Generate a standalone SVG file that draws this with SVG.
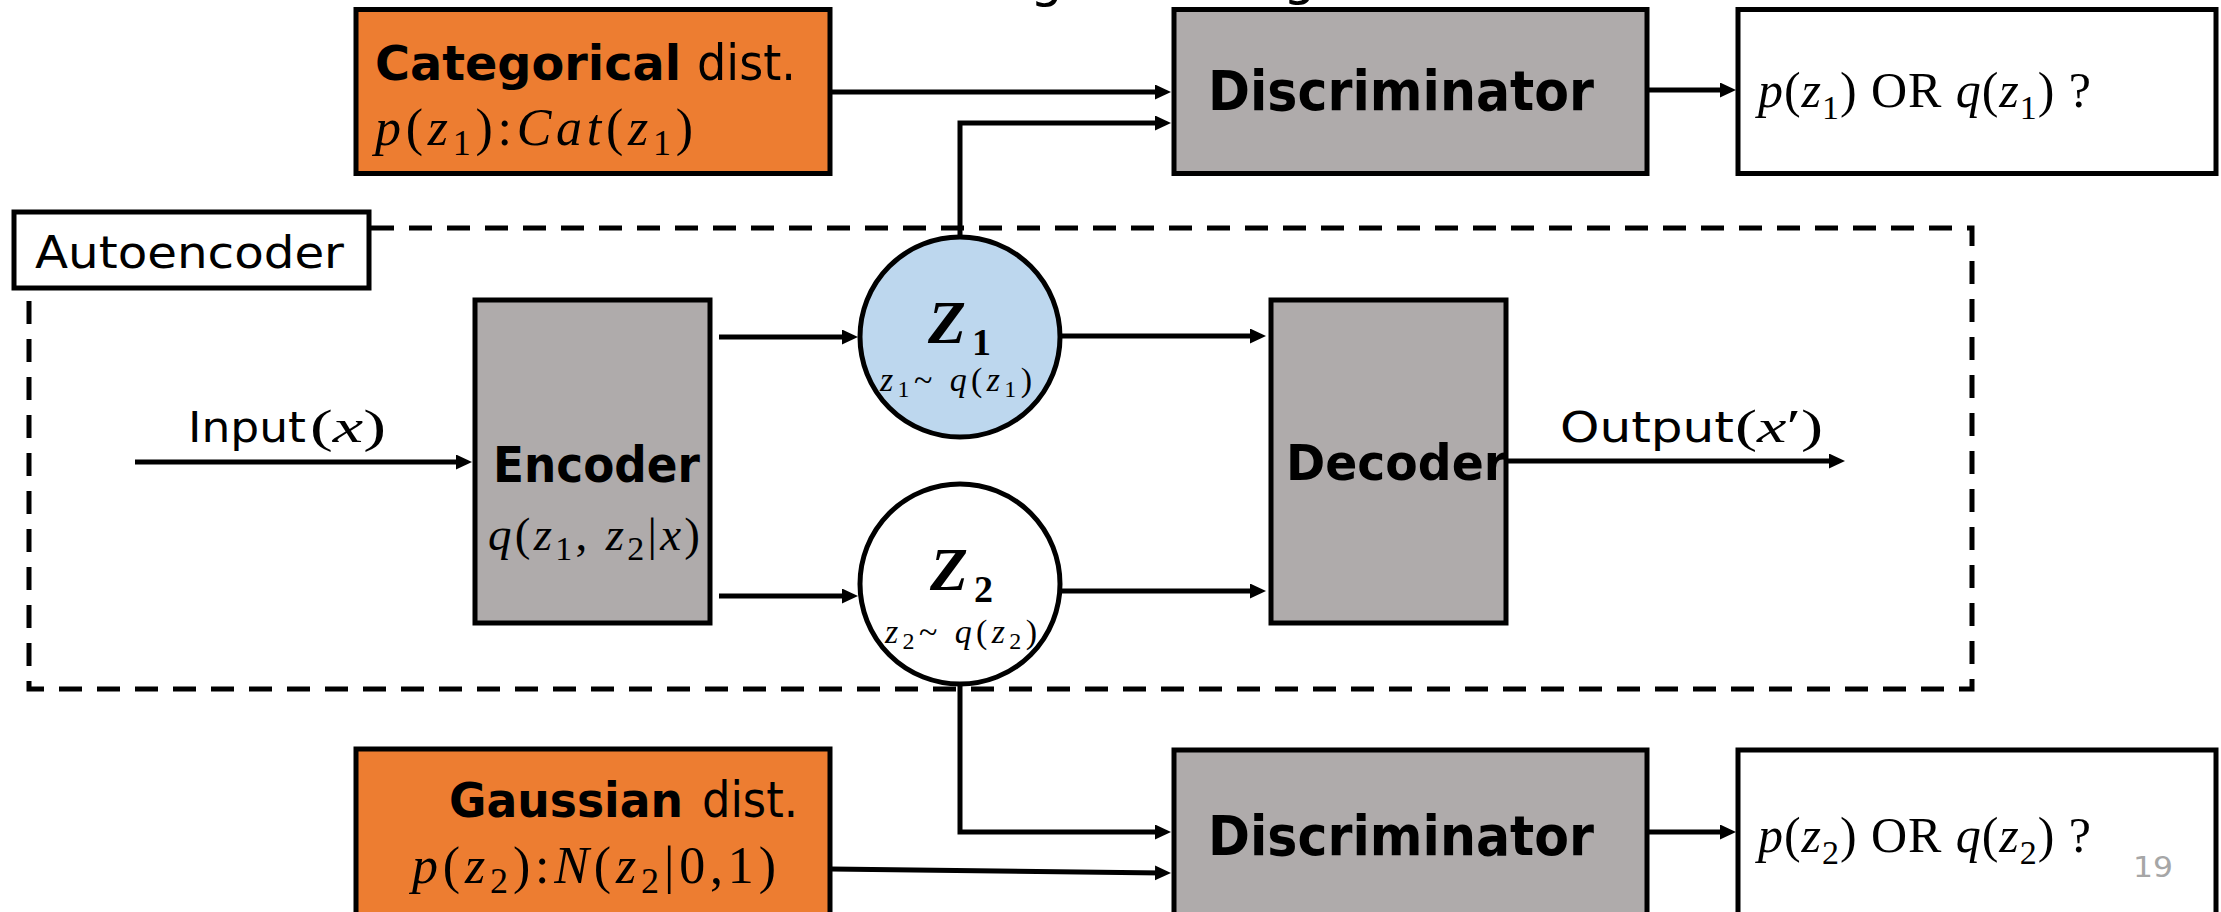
<svg xmlns="http://www.w3.org/2000/svg" width="2221" height="912" viewBox="0 0 2221 912">
<style>
.box{stroke:#000;stroke-width:5}
.orange{fill:#ED7D31}
.gray{fill:#AFABAB}
.white{fill:#FFFFFF}
.blue{fill:#BDD7EE}
.sans{font-family:"DejaVu Sans","Liberation Sans",sans-serif;fill:#000}
.b{font-weight:bold}
.math{font-family:"Liberation Serif","DejaVu Serif",serif;fill:#000}
.it{font-style:italic}
.conn{fill:none;stroke:#000;stroke-width:5}
</style>
<defs>
<marker id="ah" markerUnits="userSpaceOnUse" markerWidth="17" markerHeight="16" refX="8" refY="7.5" orient="auto">
<path d="M0,0 L16,7.5 L0,15 Z" fill="#000"/>
</marker>
</defs>
<rect width="2221" height="912" fill="#FFFFFF"/>

<g id="title">
<text class="sans" x="1030" y="-4" font-size="52">g</text>
<text class="sans" x="1283" y="-6" font-size="52">g</text>
</g>

<g id="autoencoder-frame">
<rect x="29" y="228" width="1943" height="461" fill="none" stroke="#000" stroke-width="5" stroke-dasharray="23 15"/>
<rect class="box white" x="14" y="212" width="355" height="76"/>
<text class="sans" x="35" y="268" font-size="44" textLength="309" lengthAdjust="spacingAndGlyphs">Autoencoder</text>
</g>

<g id="connectors">
<path class="conn" d="M832,92 H1163" marker-end="url(#ah)"/>
<path class="conn" stroke-width="4.5" d="M960,237 V123 H1163" marker-end="url(#ah)"/>
<path class="conn" d="M1649,90 H1728" marker-end="url(#ah)"/>
<path class="conn" d="M135,462 H464" marker-end="url(#ah)"/>
<path class="conn" d="M719,337 H850" marker-end="url(#ah)"/>
<path class="conn" d="M719,596 H850" marker-end="url(#ah)"/>
<path class="conn" d="M1061,336 H1258" marker-end="url(#ah)"/>
<path class="conn" d="M1061,591 H1258" marker-end="url(#ah)"/>
<path class="conn" d="M1508,461 H1837" marker-end="url(#ah)"/>
<path class="conn" stroke-width="4.5" d="M960,683 V832 H1163" marker-end="url(#ah)"/>
<path class="conn" d="M831,869 L1163,873" marker-end="url(#ah)"/>
<path class="conn" d="M1649,832 H1728" marker-end="url(#ah)"/>
</g>

<g id="categorical">
<rect class="box orange" x="356" y="9.5" width="474" height="164"/>
<text class="sans b" x="375" y="80" font-size="48" textLength="306" lengthAdjust="spacingAndGlyphs">Categorical</text>
<text class="sans" x="697" y="80" font-size="50" textLength="99" lengthAdjust="spacingAndGlyphs">dist.</text>
<text class="math" x="375" y="145" font-size="52" textLength="318" lengthAdjust="spacing"><tspan class="it">p</tspan>(<tspan class="it">z</tspan><tspan font-size="36" dy="10">1</tspan><tspan dy="-10">):</tspan><tspan class="it">Cat</tspan>(<tspan class="it">z</tspan><tspan font-size="36" dy="10">1</tspan><tspan dy="-10">)</tspan></text>
</g>

<g id="discriminator1">
<rect class="box gray" x="1174" y="9.5" width="473" height="164"/>
<text class="sans b" x="1208" y="110" font-size="55" textLength="386" lengthAdjust="spacingAndGlyphs">Discriminator</text>
</g>

<g id="result1">
<rect class="box white" x="1738" y="9.5" width="478" height="164"/>
<text class="math" x="1758" y="107" font-size="50" textLength="333" lengthAdjust="spacing"><tspan class="it">p</tspan>(<tspan class="it">z</tspan><tspan font-size="34" dy="12">1</tspan><tspan dy="-12">) OR </tspan><tspan class="it">q</tspan>(<tspan class="it">z</tspan><tspan font-size="34" dy="12">1</tspan><tspan dy="-12">) ?</tspan></text>
</g>

<g id="input-label">
<text class="sans" x="188" y="442" font-size="42" textLength="118" lengthAdjust="spacingAndGlyphs">Input</text>
<text class="math" x="310" y="442" font-size="46" textLength="76" lengthAdjust="spacingAndGlyphs">(<tspan class="it">x</tspan>)</text>
</g>

<g id="encoder">
<rect class="box gray" x="475" y="300" width="235" height="323"/>
<text class="sans b" x="493" y="482" font-size="50" textLength="207" lengthAdjust="spacingAndGlyphs">Encoder</text>
<text class="math" x="488" y="550" font-size="47" textLength="212" lengthAdjust="spacing"><tspan class="it">q</tspan>(<tspan class="it">z</tspan><tspan font-size="34" dy="10">1</tspan><tspan dy="-10">, </tspan><tspan class="it">z</tspan><tspan font-size="34" dy="10">2</tspan><tspan dy="-10">|</tspan><tspan class="it">x</tspan>)</text>
</g>

<g id="z1">
<circle class="box blue" cx="960" cy="337" r="100"/>
<text class="math b" x="928" y="343" font-size="62"><tspan class="it">Z</tspan><tspan font-size="38" dx="6" dy="12">1</tspan></text>
<text class="math" x="880" y="391" font-size="34" textLength="152" lengthAdjust="spacing"><tspan class="it">z</tspan><tspan font-size="24" dy="6">1</tspan><tspan dy="-6">~ </tspan><tspan class="it">q</tspan>(<tspan class="it">z</tspan><tspan font-size="24" dy="6">1</tspan><tspan dy="-6">)</tspan></text>
</g>

<g id="z2">
<circle class="box white" cx="960" cy="584" r="100"/>
<text class="math b" x="930" y="590" font-size="62"><tspan class="it">Z</tspan><tspan font-size="38" dx="6" dy="12">2</tspan></text>
<text class="math" x="885" y="643" font-size="34" textLength="152" lengthAdjust="spacing"><tspan class="it">z</tspan><tspan font-size="24" dy="6">2</tspan><tspan dy="-6">~ </tspan><tspan class="it">q</tspan>(<tspan class="it">z</tspan><tspan font-size="24" dy="6">2</tspan><tspan dy="-6">)</tspan></text>
</g>

<g id="decoder">
<rect class="box gray" x="1271" y="300" width="235" height="323"/>
<text class="sans b" x="1286" y="480" font-size="50" textLength="221" lengthAdjust="spacingAndGlyphs">Decoder</text>
</g>

<g id="output-label">
<text class="sans" x="1560" y="442" font-size="42" textLength="174" lengthAdjust="spacingAndGlyphs">Output</text>
<text class="math" x="1735" y="442" font-size="46" textLength="88" lengthAdjust="spacingAndGlyphs">(<tspan class="it">x</tspan>′)</text>
</g>

<g id="gaussian">
<rect class="box orange" x="356" y="749" width="474" height="200"/>
<text class="sans b" x="449" y="817" font-size="48" textLength="234" lengthAdjust="spacingAndGlyphs">Gaussian</text>
<text class="sans" x="702" y="817" font-size="50" textLength="96" lengthAdjust="spacingAndGlyphs">dist.</text>
<text class="math" x="412" y="883" font-size="52" textLength="364" lengthAdjust="spacing"><tspan class="it">p</tspan>(<tspan class="it">z</tspan><tspan font-size="36" dy="10">2</tspan><tspan dy="-10">):</tspan><tspan class="it">N</tspan>(<tspan class="it">z</tspan><tspan font-size="36" dy="10">2</tspan><tspan dy="-10">|0,1)</tspan></text>
</g>

<g id="discriminator2">
<rect class="box gray" x="1174" y="750" width="473" height="200"/>
<text class="sans b" x="1208" y="855" font-size="55" textLength="386" lengthAdjust="spacingAndGlyphs">Discriminator</text>
</g>

<g id="result2">
<rect class="box white" x="1738" y="750" width="478" height="200"/>
<text class="math" x="1758" y="852" font-size="50" textLength="333" lengthAdjust="spacing"><tspan class="it">p</tspan>(<tspan class="it">z</tspan><tspan font-size="34" dy="12">2</tspan><tspan dy="-12">) OR </tspan><tspan class="it">q</tspan>(<tspan class="it">z</tspan><tspan font-size="34" dy="12">2</tspan><tspan dy="-12">) ?</tspan></text>
</g>

<g id="page-number">
<text class="sans" x="2133" y="877" font-size="28" style="fill:#A6A6A6" textLength="40" lengthAdjust="spacingAndGlyphs">19</text>
</g>
</svg>
